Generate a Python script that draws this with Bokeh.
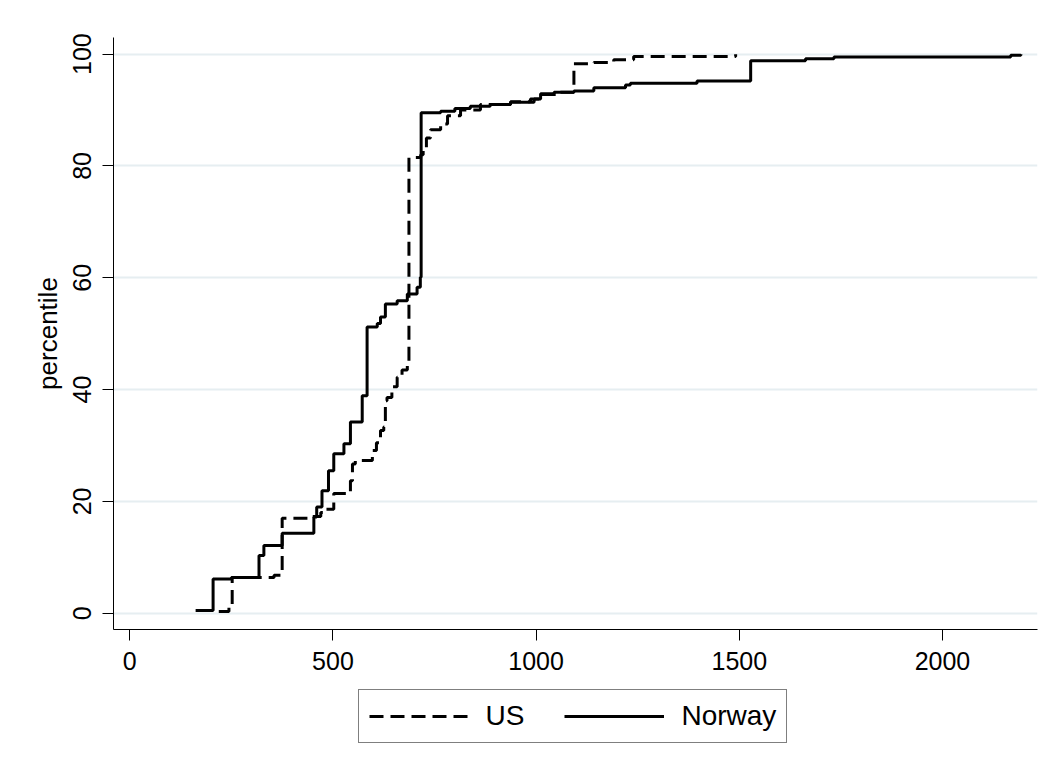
from bokeh.plotting import figure
from bokeh.models import Range1d, Legend, LegendItem, FixedTicker
from bokeh.layouts import column
from bokeh.embed import file_html
from bokeh.resources import INLINE

# ---- data ----
us_x = [219, 244, 252, 355, 375, 440, 470, 481, 502, 543, 548, 555, 597, 607, 617, 625, 629,
        633, 645, 658, 670, 683, 687, 716, 722, 730, 740, 765, 782, 814, 863, 937, 986,
        1011, 1060, 1093, 1142, 1191, 1240, 1491]
us_y = [0.3, 1.0, 6.4, 6.8, 17.0, 17.3, 18.0, 18.6, 21.4, 23.7, 26.7, 27.3, 29.1, 30.5, 32.7,
        33.3, 38.0, 38.6, 40.5, 42.2, 43.5, 44.6, 81.5, 82.0, 83.0, 85.0, 86.5, 87.5, 89.0,
        90.0, 91.0, 91.5, 92.0, 92.8, 93.2, 98.3, 98.5, 99.0, 99.6, 100.0]

norway_x = [162, 205, 250, 318, 330, 375, 453, 460, 473, 489, 502, 527, 543, 572, 584, 609,
            617, 629, 658, 683, 707, 715, 717, 765, 800, 838, 887, 937, 995, 1011, 1044, 1093,
            1142, 1220, 1232, 1396, 1528, 1663, 1733, 2168, 2193]
norway_y = [0.5, 6.1, 6.4, 10.3, 12.1, 14.3, 17.2, 19.0, 21.9, 25.5, 28.5, 30.3, 34.2, 38.9,
            51.2, 51.8, 53.0, 55.3, 55.9, 57.1, 58.3, 60.1, 89.5, 89.8, 90.3, 90.7, 91.0, 91.4,
            92.0, 92.9, 93.2, 93.4, 94.0, 94.5, 94.8, 95.2, 98.8, 99.2, 99.5, 99.8, 100.0]

x_ticks = [0, 500, 1000, 1500, 2000]
y_ticks = [0, 20, 40, 60, 80, 100]
series_names = ["US", "Norway"]

FONT = "Liberation Sans"
US_DASH = "14 7"

# ---- main plot ----
p = figure(frame_width=924, frame_height=592, output_backend="svg", toolbar_location=None,
           x_range=Range1d(-40.1, 2233.9), y_range=Range1d(-2.92, 102.98),
           min_border_left=113, min_border_right=11, min_border_top=37,
           min_border_bottom=55)
p.outline_line_color = None
p.background_fill_color = "white"
p.border_fill_color = "white"

p.step(us_x, us_y, mode="after", line_color="black", line_width=3, line_dash=US_DASH)
p.step(norway_x, norway_y, mode="after", line_color="black", line_width=3)

p.xaxis.ticker = FixedTicker(ticks=x_ticks)
p.yaxis.ticker = FixedTicker(ticks=y_ticks)
for ax in (p.xaxis[0], p.yaxis[0]):
    ax.axis_line_color = "black"
    ax.axis_line_width = 1
    ax.major_tick_line_color = "black"
    ax.major_tick_line_width = 1
    ax.major_tick_out = 11
    ax.major_tick_in = 0
    ax.minor_tick_line_color = None
    ax.major_label_text_font = FONT
    ax.major_label_text_font_size = "25px"
    ax.major_label_text_color = "black"
    ax.axis_label_text_font = FONT
    ax.axis_label_text_font_style = "normal"
    ax.axis_label_text_font_size = "26px"
    ax.axis_label_text_color = "black"

p.xaxis.major_label_standoff = 11
p.yaxis.major_label_standoff = 11
p.yaxis.major_label_orientation = "vertical"
p.yaxis.axis_label = "percentile"
p.yaxis.axis_label_standoff = 8

p.xgrid.visible = False
p.ygrid.grid_line_color = "#e6eef1"
p.ygrid.grid_line_width = 2

# ---- legend strip below the plot (its frame is aligned with the main frame) ----
lg = figure(width=1048, height=88, output_backend="svg", toolbar_location=None,
            x_axis_type=None, y_axis_type=None,
            x_range=Range1d(0, 1), y_range=Range1d(0, 1),
            min_border_left=0, min_border_right=0, min_border_top=0, min_border_bottom=0)
lg.outline_line_color = None
lg.grid.visible = False
lg.border_fill_color = "white"
# same series, drawn off-range here: only used for the legend keys
k_us = lg.step(us_x, us_y, mode="after", line_color="black", line_width=3, line_dash=US_DASH)
k_no = lg.step(norway_x, norway_y, mode="after", line_color="black", line_width=3)

legend = Legend(items=[LegendItem(label=series_names[0], renderers=[k_us]),
                       LegendItem(label=series_names[1], renderers=[k_no])],
                orientation="horizontal", location=(244.5, 29.5))
legend.label_text_font = FONT
legend.label_text_font_size = "28px"
legend.label_text_color = "black"
legend.glyph_width = 100
legend.glyph_height = 30
legend.label_standoff = 17
legend.spacing = 40
legend.padding = 10
legend.margin = 0
legend.border_line_color = "black"
legend.border_line_width = 1
legend.background_fill_color = "white"
legend.inactive_fill_alpha = 0
lg.add_layout(legend, "center")

page = column(p, lg, spacing=0)

open("out.html", "w").write(file_html(page, INLINE))
